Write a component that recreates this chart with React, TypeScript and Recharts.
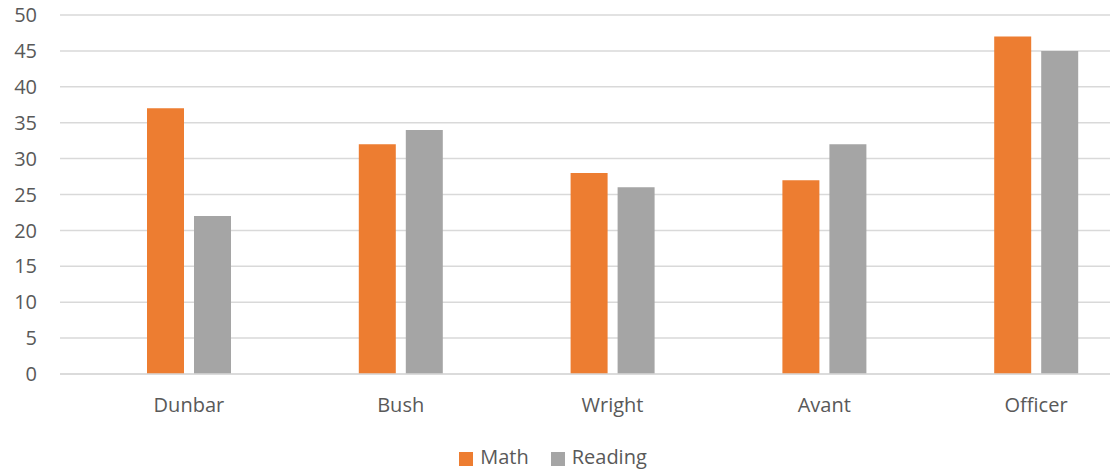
import { Bar, BarChart, CartesianGrid, Legend, XAxis, YAxis } from 'recharts'

const schools = ['Dunbar', 'Bush', 'Wright', 'Avant', 'Officer']
const mathScores = [37, 32, 28, 27, 47]
const readingScores = [22, 34, 26, 32, 45]
const yTicks = [0, 5, 10, 15, 20, 25, 30, 35, 40, 45, 50]

const data = schools.map((name, i) => ({
  name,
  Math: mathScores[i],
  Reading: readingScores[i],
}))

const font = '"Open Sans", sans-serif'

export default function App() {
  return (
    <div style={{ width: 1110, height: 471, overflow: 'hidden', position: 'relative' }}>
      <style>{`body { margin: 0; overflow: hidden; }`}</style>
      <BarChart
        width={1142}
        height={471}
        data={data}
        margin={{ top: 15, right: 0, left: 0, bottom: 8 }}
        barGap={10}
        barSize={37}
      >
        <CartesianGrid vertical={false} stroke="#d9d9d9" strokeWidth={1.5} />
        <XAxis
          dataKey="name"
          height={62}
          padding={{ left: 23, right: 0 }}
          axisLine={{ stroke: '#d9d9d9', strokeWidth: 1.5 }}
          tickLine={false}
          tickSize={0}
          tickMargin={24}
          tick={{ fill: '#595959', fontSize: 20, fontFamily: font }}
        />
        <YAxis
          width={60}
          domain={[0, 50]}
          ticks={yTicks}
          interval={0}
          axisLine={false}
          tickLine={false}
          tickSize={0}
          tickMargin={23}
          tick={{ fill: '#595959', fontSize: 20, fontFamily: font }}
        />
        <Legend
          verticalAlign="bottom"
          iconType="square"
          iconSize={14}
          wrapperStyle={{ left: 0, bottom: 1, width: 1116, fontFamily: font, fontSize: 20, color: '#595959' }}
          formatter={(v, _e, i) => (
            <span style={{ color: '#595959', marginLeft: 3, marginRight: i === 0 ? 12 : 0 }}>{v}</span>
          )}
        />
        <Bar dataKey="Math" fill="#ED7D31" isAnimationActive={false} />
        <Bar dataKey="Reading" fill="#A5A5A5" isAnimationActive={false} />
      </BarChart>
    </div>
  )
}
